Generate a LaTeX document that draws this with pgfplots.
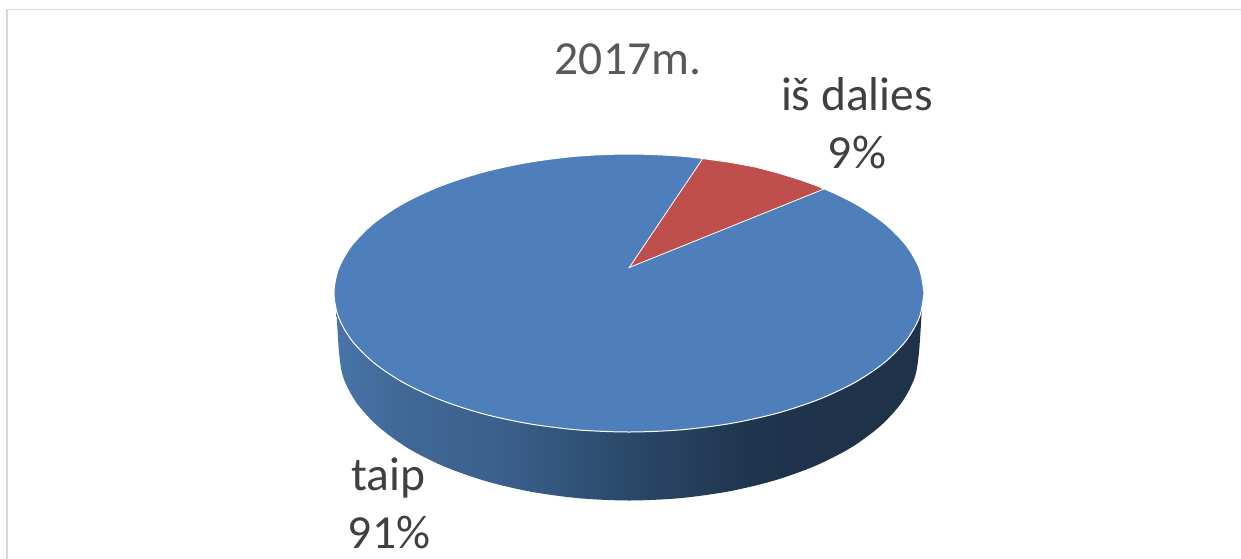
\documentclass[border=0pt]{standalone}
\usepackage{pgfplots}
\pgfplotsset{compat=1.18}
\usepackage{fontspec}
\setmainfont{Carlito}
\definecolor{pieblue}{RGB}{78,127,187}
\definecolor{piered}{RGB}{190,79,76}
\definecolor{labeltext}{RGB}{64,64,64}
\definecolor{titletext}{RGB}{89,89,89}
\definecolor{frameline}{RGB}{217,217,217}
\definecolor{wallA}{RGB}{72,116,168}
\definecolor{wallB}{RGB}{64,104,150}
\definecolor{wallC}{RGB}{59,96,141}
\definecolor{wallD}{RGB}{43,72,104}
\definecolor{wallE}{RGB}{31,52,77}
\definecolor{wallF}{RGB}{30,50,73}
% side wall: 25bp..75bp is the width of the filled shape
\pgfdeclarehorizontalshading{wall}{100bp}{
  color(0bp)=(wallA);
  color(25bp)=(wallA);
  color(31bp)=(wallB);
  color(39bp)=(wallC);
  color(50bp)=(wallD);
  color(61bp)=(wallE);
  color(75bp)=(wallF);
  color(100bp)=(wallF)}
\begin{document}
\begin{tikzpicture}
\begin{axis}[
  width=1241bp, height=559bp, scale only axis,
  xmin=0, xmax=1241, ymin=0, ymax=559,
  y dir=reverse,
  hide axis,
  no markers,
]
  \path (rel axis cs:0,0) (rel axis cs:1,1);

  % chart frame, top and left only show
  \addplot[frameline, line width=1.5bp] coordinates {(7,559) (7,9.5) (1241,9.5)};

  % side wall
  \addplot[draw=none, shading=wall, smooth, tension=0.5] coordinates {
    (336,303) (339,352) (343.4,377.8) (356.5,402.8) (377.9,426.2) (406.8,447.5)
    (442.6,465.8) (484,480.6) (529.8,491.5) (578.6,498.2) (629,500.5) (679.4,498.2)
    (728.2,491.5) (774,480.6) (815.4,465.8) (851.2,447.5) (880.1,426.2) (901.5,402.8)
    (914.6,377.8) (919,352) (922,306)
  } --cycle;

  % taip 91%
  \addplot[fill=pieblue, draw=white, line width=1bp, smooth] coordinates {
    (924,293) (919.5,268.9) (906.2,245.5) (884.5,223.5) (855,203.6) (818.6,186.5)
    (776.5,172.6) (729.9,162.4) (680.2,156.1) (629,154) (577.8,156.1) (528.1,162.4)
    (481.5,172.6) (439.4,186.5) (403,203.6) (373.5,223.5) (351.8,245.5) (338.5,268.9)
    (334,293) (338.5,317.1) (351.8,340.5) (373.5,362.5) (403,382.4) (439.4,399.5)
    (481.5,413.4) (528.1,423.6) (577.8,429.9) (629,432) (680.2,429.9) (729.9,423.6)
    (776.5,413.4) (818.6,399.5) (855,382.4) (884.5,362.5) (906.2,340.5) (919.5,317.1)
    (924,293)
  };

  % is dalies 9%
  \addplot[fill=piered, draw=white, line width=0.8bp] coordinates {
    (629.3,267.5) (702.7,158.6) (729.9,162.4) (755,167) (776.5,172.6) (800,179.8) (818.6,186.5) (824,189)
  } --cycle;

  \node[anchor=base, text=titletext, font=\fontsize{47.5bp}{56bp}\selectfont] at (axis cs:628,75) {2017m.};
  \node[anchor=base, text=labeltext, font=\fontsize{47.5bp}{56bp}\selectfont] at (axis cs:857,110) {iš dalies};
  \node[anchor=base, text=labeltext, font=\fontsize{47.5bp}{56bp}\selectfont] at (axis cs:857,168) {9\%};
  \node[anchor=base, text=labeltext, font=\fontsize{47.5bp}{56bp}\selectfont] at (axis cs:388,490) {taip};
  \node[anchor=base, text=labeltext, font=\fontsize{47.5bp}{56bp}\selectfont] at (axis cs:389,548) {91\%};
\end{axis}
\end{tikzpicture}
\end{document}
